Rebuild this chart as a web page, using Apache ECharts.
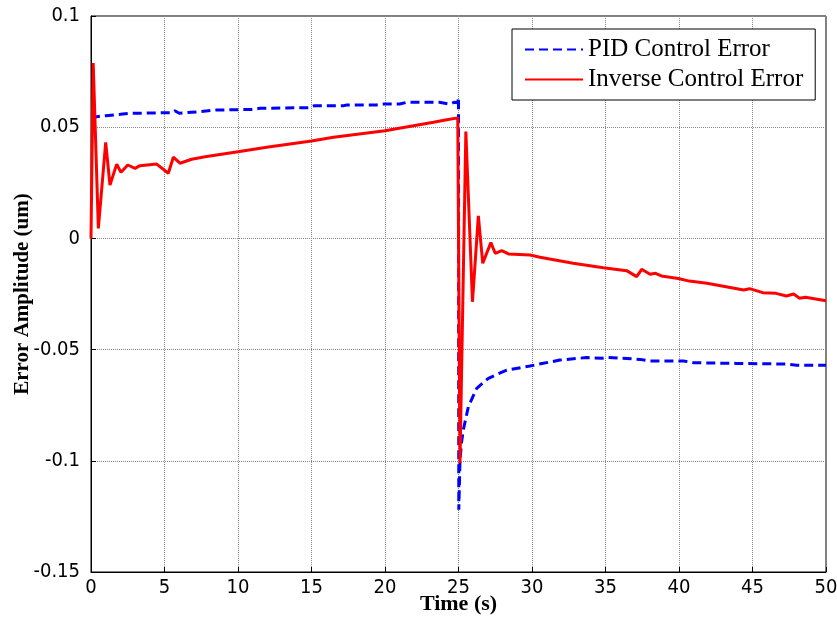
<!DOCTYPE html>
<html>
<head>
<meta charset="utf-8">
<script src="https://cdn.jsdelivr.net/npm/echarts@6/dist/echarts.min.js"></script>
<style>html,body{margin:0;padding:0;background:#fff}#c{width:837px;height:619px}</style>
</head>
<body>
<div id="c"></div>
<script>
var pidTime = [0, 0.5, 1.0, 2.0, 2.5, 4.0, 5.5, 5.7, 6.0, 7.4, 8.5, 11.0, 11.5, 14.9, 15.2, 17.2, 17.4, 19.4, 19.9, 21.0, 21.5, 23.7, 24.4, 24.7, 24.95, 25.0, 25.02, 25.1, 25.2, 25.33, 25.67, 26.24, 27.03, 28.28, 29.86, 30.5, 31.9, 33.7, 34.75, 35.2, 37.35, 38.0, 40.3, 41.0, 43.9, 47.3, 48.0, 50];
var pidError = [0.0543, 0.0548, 0.0552, 0.0558, 0.0562, 0.0564, 0.0565, 0.0574, 0.0563, 0.057, 0.0577, 0.058, 0.0585, 0.0588, 0.0597, 0.0597, 0.060, 0.060, 0.0604, 0.0604, 0.0612, 0.0612, 0.0604, 0.0612, 0.061, 0.0634, -0.122, -0.1, -0.092, -0.086, -0.0757, -0.0674, -0.0629, -0.0592, -0.0574, -0.0565, -0.0547, -0.0536, -0.0539, -0.0535, -0.0544, -0.0551, -0.0551, -0.0559, -0.0562, -0.0565, -0.057, -0.057];

var invTime = [0, 0.15, 0.5, 1.0, 1.29, 1.75, 2.04, 2.5, 3.0, 3.33, 4.47, 5.26, 5.6, 6.05, 6.85, 7.76, 10, 11.95, 15, 16.5, 20, 23.3, 24.1, 24.95, 25.1, 25.5, 25.95, 26.35, 26.65, 27.2, 27.5, 27.94, 28.4, 29.87, 30.54, 31.2, 32.8, 34.85, 36.44, 37.12, 37.46, 38.03, 38.4, 38.8, 39.95, 40.7, 41.9, 43.2, 44.4, 44.8, 45.7, 46.6, 47.3, 47.8, 48.2, 48.6, 50];
var invError = [0, 0.0789, 0.0045, 0.0432, 0.024, 0.0334, 0.0297, 0.033, 0.0315, 0.0327, 0.0334, 0.0293, 0.0365, 0.0338, 0.0356, 0.0367, 0.039, 0.041, 0.0438, 0.0455, 0.0484, 0.0522, 0.0532, 0.0542, -0.101, 0.048, -0.0285, 0.0101, -0.0112, -0.0019, -0.0067, -0.0055, -0.007, -0.0075, -0.0085, -0.0093, -0.0112, -0.0132, -0.0145, -0.0172, -0.0139, -0.0161, -0.0157, -0.0169, -0.018, -0.0192, -0.0202, -0.0217, -0.0232, -0.0226, -0.0244, -0.0247, -0.0259, -0.025, -0.0269, -0.0265, -0.028];

var seriesNames = ['PID Control Error', 'Inverse Control Error'];
var xLabel = 'Time (s)';
var yLabel = 'Error Amplitude (um)';

function pairs(t, v) { return t.map(function (x, i) { return [x, v[i]]; }); }

var chart = echarts.init(document.getElementById('c'), null, {renderer: 'canvas'});
var tickFont = {fontFamily: 'Liberation Sans Narrow, DejaVu Sans Condensed, Liberation Sans, Arial', fontSize: 20, color: '#000'};
var serif = 'Liberation Serif, Times New Roman, serif';
chart.setOption({
  animation: false,
  backgroundColor: '#fff',
  grid: {left: 91, right: 11, top: 16, bottom: 47, show: true, borderColor: '#000', borderWidth: 1,
         containLabel: false, outerBoundsMode: 'none'},
  legend: {
    orient: 'vertical', left: 512, top: 29,
    data: seriesNames,
    backgroundColor: '#fff', borderColor: '#000', borderWidth: 1,
    padding: [8, 12, 8, 12],
    itemWidth: 58, itemHeight: 14, itemGap: 5,
    itemStyle: {opacity: 0},
    textStyle: {fontFamily: serif, fontSize: 25, color: '#000', lineHeight: 25}
  },
  xAxis: {
    type: 'value', min: 0, max: 50, interval: 5,
    name: xLabel, nameLocation: 'middle', nameGap: 21, nameMoveOverlap: false,
    nameTextStyle: {fontFamily: serif, fontWeight: 'bold', fontSize: 22, color: '#000'},
    axisLine: {show: true, onZero: false, lineStyle: {color: '#000', width: 1}},
    axisTick: {show: true, inside: true, length: 5, lineStyle: {color: '#000'}},
    axisLabel: Object.assign({margin: 6}, tickFont),
    splitLine: {show: true, lineStyle: {color: '#888', type: 'dotted', width: 1}}
  },
  yAxis: {
    type: 'value', min: -0.15, max: 0.1, interval: 0.05,
    name: yLabel, nameLocation: 'middle', nameGap: 58, nameRotate: 90, nameMoveOverlap: false,
    nameTextStyle: {fontFamily: serif, fontWeight: 'bold', fontSize: 21, color: '#000'},
    axisLine: {show: true, onZero: false, lineStyle: {color: '#000', width: 1}},
    axisTick: {show: true, inside: true, length: 5, lineStyle: {color: '#000'}},
    axisLabel: Object.assign({margin: 11, formatter: function (v) { return String(Math.round(v * 100) / 100); }}, tickFont),
    splitLine: {show: true, lineStyle: {color: '#888', type: 'dotted', width: 1}}
  },
  series: [
    {name: seriesNames[0], type: 'line', data: pairs(pidTime, pidError), symbol: 'none', smooth: false,
     lineStyle: {color: '#0000ff', width: 3, type: [9, 5]}, itemStyle: {color: '#0000ff'}, z: 2},
    {name: seriesNames[1], type: 'line', data: pairs(invTime, invError), symbol: 'none', smooth: false,
     lineStyle: {color: '#ff0000', width: 3}, itemStyle: {color: '#ff0000'}, z: 3}
  ]
});
</script>
</body>
</html>
